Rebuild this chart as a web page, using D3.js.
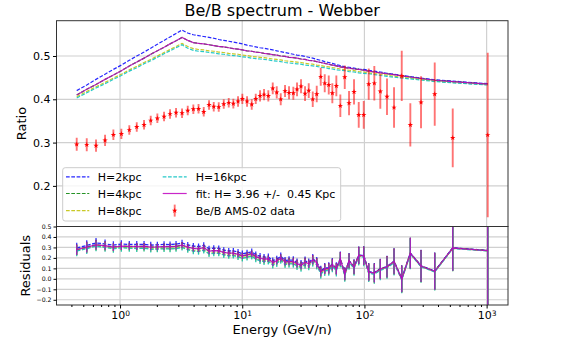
<!DOCTYPE html>
<html><head><meta charset="utf-8">
<script src="https://cdn.jsdelivr.net/npm/d3@7"></script>
<style>body{margin:0;background:#fff} text{font-family:"DejaVu Sans",sans-serif}</style>
</head><body><svg id="c" width="565" height="339"></svg>
<script>
const energies = [0.442,0.534,0.636,0.754,0.882,1.025,1.191,1.370,1.572,1.783,
2.020,2.292,2.566,2.873,3.217,3.581,3.980,4.389,4.841,5.349,
5.846,6.423,7.058,7.754,8.457,9.24,10.02,10.95,11.96,12.90,
13.99,15.08,16.35,17.77,19.16,20.66,22.40,24.15,26.19,28.08,
30.28,32.66,35.01,37.76,40.71,43.90,47.33,51.05,54.62,58.90,
63.51,69.02,74.82,82.20,89.83,98.7,108.4,120.5,134.9,153.0,
174.7,202.0,237.5,290.5,376.1,528.0,1021];
const ratio = [0.296,0.295,0.293,0.305,0.318,0.320,0.329,0.336,0.341,0.351,
0.356,0.360,0.366,0.369,0.368,0.374,0.377,0.378,0.371,0.387,
0.383,0.382,0.389,0.392,0.390,0.395,0.401,0.395,0.388,0.401,
0.408,0.411,0.408,0.425,0.416,0.400,0.419,0.415,0.414,0.423,
0.430,0.413,0.420,0.400,0.412,0.452,0.437,0.433,0.414,0.431,
0.385,0.451,0.391,0.417,0.364,0.364,0.435,0.437,0.418,0.406,
0.381,0.454,0.341,0.393,0.412,0.311,0.3175];
const ratioErr = [0.015,0.015,0.014,0.013,0.012,0.012,0.011,0.011,0.011,0.011,
0.011,0.011,0.011,0.011,0.011,0.011,0.011,0.011,0.011,0.011,
0.011,0.011,0.011,0.011,0.011,0.012,0.012,0.012,0.012,0.012,
0.013,0.013,0.013,0.0135,0.014,0.014,0.014,0.015,0.015,0.016,
0.016,0.017,0.017,0.018,0.019,0.021,0.021,0.022,0.023,0.024,
0.026,0.027,0.028,0.029,0.030,0.032,0.036,0.040,0.040,0.042,
0.047,0.058,0.050,0.060,0.073,0.068,0.19];
const modelH2 = [0.420,0.433,0.446,0.458,0.469,0.479,0.490,0.500,0.509,0.518,
0.527,0.536,0.544,0.552,0.560,0.553,0.549,0.547,0.545,0.543,
0.541,0.538,0.536,0.534,0.532,0.530,0.528,0.525,0.523,0.521,
0.519,0.518,0.516,0.514,0.512,0.510,0.508,0.506,0.504,0.502,
0.501,0.499,0.497,0.495,0.492,0.490,0.487,0.485,0.483,0.480,
0.478,0.475,0.474,0.472,0.470,0.469,0.467,0.465,0.463,0.460,
0.458,0.455,0.4525,0.449,0.445,0.442,0.436];
const modelH4 = [0.410,0.423,0.434,0.446,0.456,0.466,0.477,0.486,0.495,0.504,
0.512,0.520,0.528,0.535,0.543,0.536,0.531,0.529,0.528,0.526,
0.524,0.522,0.521,0.519,0.517,0.516,0.514,0.512,0.511,0.509,
0.508,0.506,0.505,0.503,0.502,0.500,0.499,0.497,0.496,0.495,
0.493,0.492,0.490,0.489,0.487,0.485,0.483,0.481,0.479,0.477,
0.475,0.473,0.472,0.470,0.469,0.467,0.465,0.463,0.461,0.459,
0.457,0.454,0.4515,0.448,0.444,0.441,0.435];
const modelH8 = [0.406,0.418,0.429,0.439,0.449,0.458,0.468,0.476,0.485,0.492,
0.500,0.508,0.515,0.522,0.529,0.522,0.517,0.515,0.514,0.512,
0.511,0.509,0.508,0.506,0.505,0.504,0.502,0.501,0.499,0.498,
0.497,0.496,0.495,0.493,0.492,0.491,0.489,0.488,0.487,0.486,
0.485,0.483,0.482,0.481,0.479,0.478,0.476,0.475,0.473,0.472,
0.470,0.468,0.467,0.466,0.464,0.463,0.461,0.459,0.458,0.456,
0.453,0.451,0.449,0.446,0.442,0.439,0.434];
const modelH16 = [0.403,0.415,0.426,0.436,0.446,0.455,0.465,0.473,0.482,0.489,
0.497,0.505,0.512,0.519,0.526,0.518,0.513,0.511,0.510,0.508,
0.507,0.505,0.504,0.502,0.501,0.500,0.498,0.497,0.495,0.494,
0.493,0.492,0.491,0.489,0.488,0.487,0.485,0.484,0.483,0.482,
0.481,0.479,0.478,0.477,0.476,0.474,0.473,0.471,0.470,0.468,
0.467,0.466,0.464,0.463,0.461,0.460,0.459,0.457,0.455,0.453,
0.451,0.449,0.447,0.4445,0.441,0.438,0.433];
const modelFit = [0.410,0.423,0.434,0.446,0.456,0.466,0.477,0.486,0.495,0.504,
0.512,0.520,0.528,0.535,0.543,0.536,0.531,0.529,0.528,0.526,
0.524,0.522,0.521,0.519,0.517,0.516,0.514,0.512,0.511,0.509,
0.508,0.506,0.505,0.503,0.502,0.500,0.499,0.497,0.496,0.495,
0.493,0.492,0.490,0.489,0.487,0.485,0.483,0.481,0.479,0.477,
0.475,0.473,0.472,0.470,0.469,0.467,0.465,0.463,0.461,0.459,
0.457,0.454,0.4515,0.448,0.444,0.441,0.435];
const seriesLabels = ["H=2kpc","H=4kpc","H=8kpc","H=16kpc","fit: H= 3.96 +/-  0.45 Kpc","Be/B AMS-02 data"];
const mainYTicks = [0.2,0.3,0.4,0.5];
const resYTicks = [-0.2,-0.1,0.0,0.1,0.2,0.3,0.4,0.5];
const xMajorTicks = [1,10,100,1000];
const titleText = "Be/B spectrum - Webber";
const xLabel = "Energy (GeV/n)", yLabel = "Ratio", resLabel = "Residuals";

const L=56.5,R=508,T=20.7,MB=226.5,RB=305;
const svg=d3.select("#c");
const x=d3.scaleLog().domain([0.302,1496]).range([L,R]);
const yM=d3.scaleLinear().domain([0.1062,0.5815]).range([MB,T]);
const yR=d3.scaleLinear().domain([-0.25,0.5]).range([RB,MB]);

const defs=svg.append("defs");
defs.append("clipPath").attr("id","cm").append("rect").attr("x",L).attr("y",T).attr("width",R-L).attr("height",MB-T);
defs.append("clipPath").attr("id","cr").append("rect").attr("x",L).attr("y",MB).attr("width",R-L).attr("height",RB-MB);

const gridC="#d0d0d0";
const gm=svg.append("g");
gm.selectAll("line.v").data(xMajorTicks).join("line").attr("x1",d=>x(d)).attr("x2",d=>x(d)).attr("y1",T).attr("y2",MB).attr("stroke",gridC).attr("stroke-width",1.2);
gm.selectAll("line.h").data(mainYTicks).join("line").attr("x1",L).attr("x2",R).attr("y1",d=>yM(d)).attr("y2",d=>yM(d)).attr("stroke",gridC).attr("stroke-width",1.2);
const gr=svg.append("g");
gr.selectAll("line.v").data(xMajorTicks).join("line").attr("x1",d=>x(d)).attr("x2",d=>x(d)).attr("y1",MB).attr("y2",RB).attr("stroke",gridC).attr("stroke-width",1.2);
gr.selectAll("line.h").data(resYTicks).join("line").attr("x1",L).attr("x2",R).attr("y1",d=>yR(d)).attr("y2",d=>yR(d)).attr("stroke",gridC).attr("stroke-width",1.2);

const models=[
 {vals:modelH2,color:"#0000ff",dash:"3.7,1.6",label:seriesLabels[0]},
 {vals:modelH4,color:"#008000",dash:"3.7,1.6",label:seriesLabels[1]},
 {vals:modelH8,color:"#bfbf00",dash:"3.7,1.6",label:seriesLabels[2]},
 {vals:modelH16,color:"#00bfbf",dash:"3.7,1.6",label:seriesLabels[3]},
 {vals:modelFit,color:"#bf00bf",dash:null,label:seriesLabels[4]}
];

const pm=svg.append("g").attr("clip-path","url(#cm)");
const lineM=d3.line().x((d,i)=>x(energies[i])).y(d=>yM(d));
models.forEach(m=>{
  pm.append("path").attr("d",lineM(m.vals)).attr("fill","none").attr("stroke",m.color)
    .attr("stroke-width",1.2).attr("stroke-opacity",0.85).attr("stroke-dasharray",m.dash);
});
pm.selectAll("line.err").data(ratio).join("line")
  .attr("x1",(d,i)=>x(energies[i])).attr("x2",(d,i)=>x(energies[i]))
  .attr("y1",(d,i)=>yM(d-ratioErr[i])).attr("y2",(d,i)=>yM(d+ratioErr[i]))
  .attr("stroke","#ff0000").attr("stroke-opacity",0.55).attr("stroke-width",1.9);
const star=d3.symbol().type(d3.symbolStar).size(9);
pm.selectAll("path.mk").data(ratio).join("path")
  .attr("d",star).attr("transform",(d,i)=>`translate(${x(energies[i])},${yM(d)})`).attr("fill","#ff0000");

const pr=svg.append("g").attr("clip-path","url(#cr)");
const lineR=d3.line().x((d,i)=>x(energies[i])).y((d,i)=>yR(d));
models.forEach(m=>{
  const res=m.vals.map((v,i)=>(v-ratio[i])/v);
  const g=pr.append("g");
  g.selectAll("line").data(res).join("line")
   .attr("x1",(d,i)=>x(energies[i])).attr("x2",(d,i)=>x(energies[i]))
   .attr("y1",(d,i)=>yR(d-ratioErr[i]/ratio[i])).attr("y2",(d,i)=>yR(d+ratioErr[i]/ratio[i]))
   .attr("stroke",m.color).attr("stroke-opacity",0.8).attr("stroke-width",1.3);
  g.append("path").attr("d",lineR(res)).attr("fill","none").attr("stroke",m.color)
   .attr("stroke-width",1.3).attr("stroke-opacity",0.85).attr("stroke-dasharray",m.dash);
});

svg.append("rect").attr("x",L).attr("y",T).attr("width",R-L).attr("height",MB-T).attr("fill","none").attr("stroke","#333").attr("stroke-width",1);
svg.append("rect").attr("x",L).attr("y",MB).attr("width",R-L).attr("height",RB-MB).attr("fill","none").attr("stroke","#333").attr("stroke-width",1);

const ayM=svg.append("g").attr("transform",`translate(${L},0)`)
  .call(d3.axisLeft(yM).tickValues(mainYTicks).tickSize(3.5).tickPadding(2.5).tickFormat(d3.format(".1f")));
ayM.select(".domain").remove();
ayM.selectAll("text").attr("font-size","11px").attr("fill","#000").attr("font-family","DejaVu Sans");
const ayR=svg.append("g").attr("transform",`translate(${L},0)`)
  .call(d3.axisLeft(yR).tickValues(resYTicks).tickSize(3).tickPadding(2).tickFormat(d3.format(".1f")));
ayR.select(".domain").remove();
ayR.selectAll("text").attr("font-size","6.2px").attr("fill","#000").attr("font-family","DejaVu Sans");

const minor=x.ticks().filter(v=>Math.abs(Math.log10(v)-Math.round(Math.log10(v)))>1e-6);
const axMin=svg.append("g").attr("transform",`translate(0,${RB})`)
  .call(d3.axisBottom(x).tickValues(minor).tickSize(2).tickFormat(""));
axMin.select(".domain").remove();
const ax=svg.append("g").attr("transform",`translate(0,${RB})`)
  .call(d3.axisBottom(x).tickValues(xMajorTicks).tickSize(3.5).tickPadding(3));
ax.select(".domain").remove();
ax.selectAll(".tick text").each(function(d){
  const t=d3.select(this); t.text("").attr("font-size","11px").attr("fill","#000").attr("font-family","DejaVu Sans");
  t.append("tspan").text("10");
  t.append("tspan").attr("dy","-0.45em").attr("font-size","7.5px").text(Math.round(Math.log10(d)));
});

svg.append("text").attr("x",(L+R)/2).attr("y",16).attr("text-anchor","middle").attr("font-size","16px").text(titleText);
svg.append("text").attr("x",(L+R)/2).attr("y",334).attr("text-anchor","middle").attr("font-size","13px").text(xLabel);
svg.append("text").attr("transform",`translate(26,${(T+MB)/2}) rotate(-90)`).attr("text-anchor","middle").attr("font-size","13px").text(yLabel);
svg.append("text").attr("transform",`translate(30,${(MB+RB)/2}) rotate(-90)`).attr("text-anchor","middle").attr("font-size","13px").text(resLabel);

const lg=svg.append("g");
lg.append("rect").attr("x",62.7).attr("y",167.7).attr("width",278).attr("height",53.3).attr("rx",2.5)
  .attr("fill","#fff").attr("fill-opacity",0.8).attr("stroke","#cccccc").attr("stroke-width",1);
const rows=[176.9,193.5,210.6];
const entries=[
 {m:models[0],col:0,row:0},{m:models[1],col:0,row:1},{m:models[2],col:0,row:2},
 {m:models[3],col:1,row:0},{m:models[4],col:1,row:1},{m:null,col:1,row:2}
];
const colX=[{h0:66,h1:89.3,t:97.7},{h0:162.7,h1:186.7,t:195.7}];
entries.forEach((e,k)=>{
  const c=colX[e.col], y=rows[e.row];
  if(e.m){
    lg.append("line").attr("x1",c.h0).attr("x2",c.h1).attr("y1",y).attr("y2",y)
      .attr("stroke",e.m.color).attr("stroke-opacity",0.85).attr("stroke-width",1.2).attr("stroke-dasharray",e.m.dash);
  } else {
    const cx=(c.h0+c.h1)/2;
    lg.append("line").attr("x1",cx).attr("x2",cx).attr("y1",y-6).attr("y2",y+6).attr("stroke","#ff0000").attr("stroke-opacity",0.55).attr("stroke-width",1.9);
    lg.append("path").attr("d",star).attr("transform",`translate(${cx},${y})`).attr("fill","#ff0000");
  }
  lg.append("text").attr("x",c.t).attr("y",y+4).attr("font-size","11px").attr("xml:space","preserve").style("white-space","pre")
    .text(e.m?e.m.label:seriesLabels[5]);
});
</script></body></html>
